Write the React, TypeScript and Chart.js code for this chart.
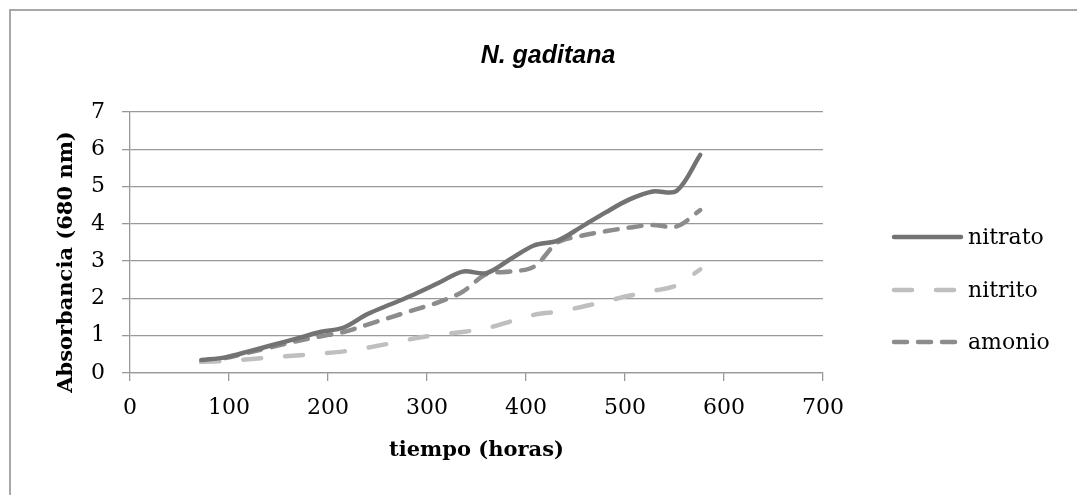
import React, { useEffect, useRef } from "react";
import { Chart, registerables } from "chart.js";

Chart.register(...registerables);

// ---- data ----
const hours = [72, 96, 120, 144, 168, 192, 216, 240, 264, 288, 312, 336, 360, 384, 408, 432, 456, 480, 504, 528, 552, 576];
const nitrato = [0.35, 0.42, 0.58, 0.75, 0.92, 1.1, 1.22, 1.58, 1.85, 2.12, 2.42, 2.72, 2.68, 3.05, 3.42, 3.55, 3.92, 4.3, 4.65, 4.87, 4.88, 5.85];
const nitrito = [0.3, 0.32, 0.37, 0.42, 0.47, 0.52, 0.58, 0.68, 0.8, 0.93, 1.03, 1.1, 1.2, 1.38, 1.56, 1.65, 1.77, 1.92, 2.07, 2.2, 2.35, 2.78];
const amonio = [0.3, 0.4, 0.55, 0.7, 0.85, 0.98, 1.1, 1.3, 1.5, 1.7, 1.9, 2.18, 2.65, 2.72, 2.85, 3.5, 3.68, 3.8, 3.9, 3.97, 3.93, 4.37];
const seriesNames = ["nitrato", "nitrito", "amonio"];
const chartTitle = "N. gaditana";
const xTitle = "tiempo (horas)";
const yTitle = "Absorbancia (680 nm)";
const xMin = 0, xMax = 700, xStep = 100;
const yMin = 0, yMax = 7, yStep = 1;

const SERIF = "'DejaVu Serif', 'Liberation Serif', serif";
const W = 1077, H = 495;

export default function App() {
  const ref = useRef<HTMLCanvasElement>(null);

  useEffect(() => {
    const canvas = ref.current;
    if (!canvas) return;
    const values = [nitrato, nitrito, amonio];
    const colors = ["#737373", "#bfbfbf", "#8c8c8c"];
    const dashes = [[], [18, 24], [13, 11]];

    const datasets = seriesNames.map((name, i) => ({
      label: name,
      data: hours.map((h, j) => ({ x: h, y: values[i][j] })),
      borderColor: colors[i],
      backgroundColor: colors[i],
      borderWidth: 4.5,
      borderDash: dashes[i],
      borderCapStyle: "round" as const,
      borderJoinStyle: "round" as const,
      pointRadius: 0,
      tension: 0.33,
      fill: false,
    }));

    const decor = {
      id: "decor",
      afterDraw(chart: any) {
        const c = chart.ctx as CanvasRenderingContext2D;
        c.save();
        c.fillStyle = "#000";
        c.font = "italic bold 25px 'Liberation Sans', Arial, sans-serif";
        c.textAlign = "center";
        c.textBaseline = "alphabetic";
        c.fillText(chartTitle, 548, 63);

        c.save();
        c.translate(67, 262);
        c.rotate(-Math.PI / 2);
        c.font = `bold 21px ${SERIF}`;
        c.textBaseline = "middle";
        c.fillText(yTitle, 0, 0);
        c.restore();

        const rows = [237, 290, 342];
        chart.data.datasets.forEach((ds: any, i: number) => {
          c.save();
          c.strokeStyle = ds.borderColor;
          c.lineWidth = ds.borderWidth;
          c.lineCap = "round";
          c.setLineDash(ds.borderDash || []);
          c.beginPath();
          c.moveTo(894, rows[i]);
          c.lineTo(961, rows[i]);
          c.stroke();
          c.restore();
          c.font = `22px ${SERIF}`;
          c.textAlign = "left";
          c.textBaseline = "middle";
          c.fillStyle = "#000";
          c.fillText(ds.label, 968, rows[i] + 1);
        });
        c.restore();
      },
    };

    const chart = new Chart(canvas, {
      type: "line",
      data: { datasets },
      options: {
        animation: false,
        responsive: false,
        devicePixelRatio: 1,
        layout: { padding: { left: 0, right: W - 823, top: 112, bottom: 0 } },
        plugins: { legend: { display: false }, title: { display: false }, tooltip: { enabled: false } },
        scales: {
          x: {
            type: "linear",
            min: xMin,
            max: xMax,
            afterFit: (s: any) => { s.height = H - 373; },
            ticks: { stepSize: xStep, color: "#000", font: { family: SERIF, size: 22 }, padding: 14, maxRotation: 0 },
            grid: { drawOnChartArea: false, drawTicks: true, tickLength: 8, color: "#999", lineWidth: 1.3 },
            border: { color: "#999", width: 1.3 },
            title: { display: true, text: xTitle, color: "#000", font: { family: SERIF, size: 21, weight: "bold" }, padding: { top: 0, bottom: 32 } },
          },
          y: {
            type: "linear",
            min: yMin,
            max: yMax,
            afterFit: (s: any) => { s.width = 130; },
            ticks: { stepSize: yStep, color: "#000", font: { family: SERIF, size: 22 }, padding: 17 },
            grid: { drawOnChartArea: true, drawTicks: true, tickLength: 8, color: "#999", lineWidth: 1.3 },
            border: { color: "#999", width: 1.3 },
          },
        },
      },
      plugins: [decor],
    });
    return () => chart.destroy();
  }, []);

  return (
    <div style={{ position: "fixed", left: 0, top: 0, width: W, height: H, background: "#fff" }}>
      <div style={{ position: "absolute", left: 9, top: 9, right: -5, bottom: -5, borderLeft: "2px solid #a8a8a8", borderTop: "2px solid #a8a8a8" }} />
      <canvas ref={ref} width={W} height={H} style={{ position: "absolute", left: 0, top: 0, width: W, height: H }} />
    </div>
  );
}
